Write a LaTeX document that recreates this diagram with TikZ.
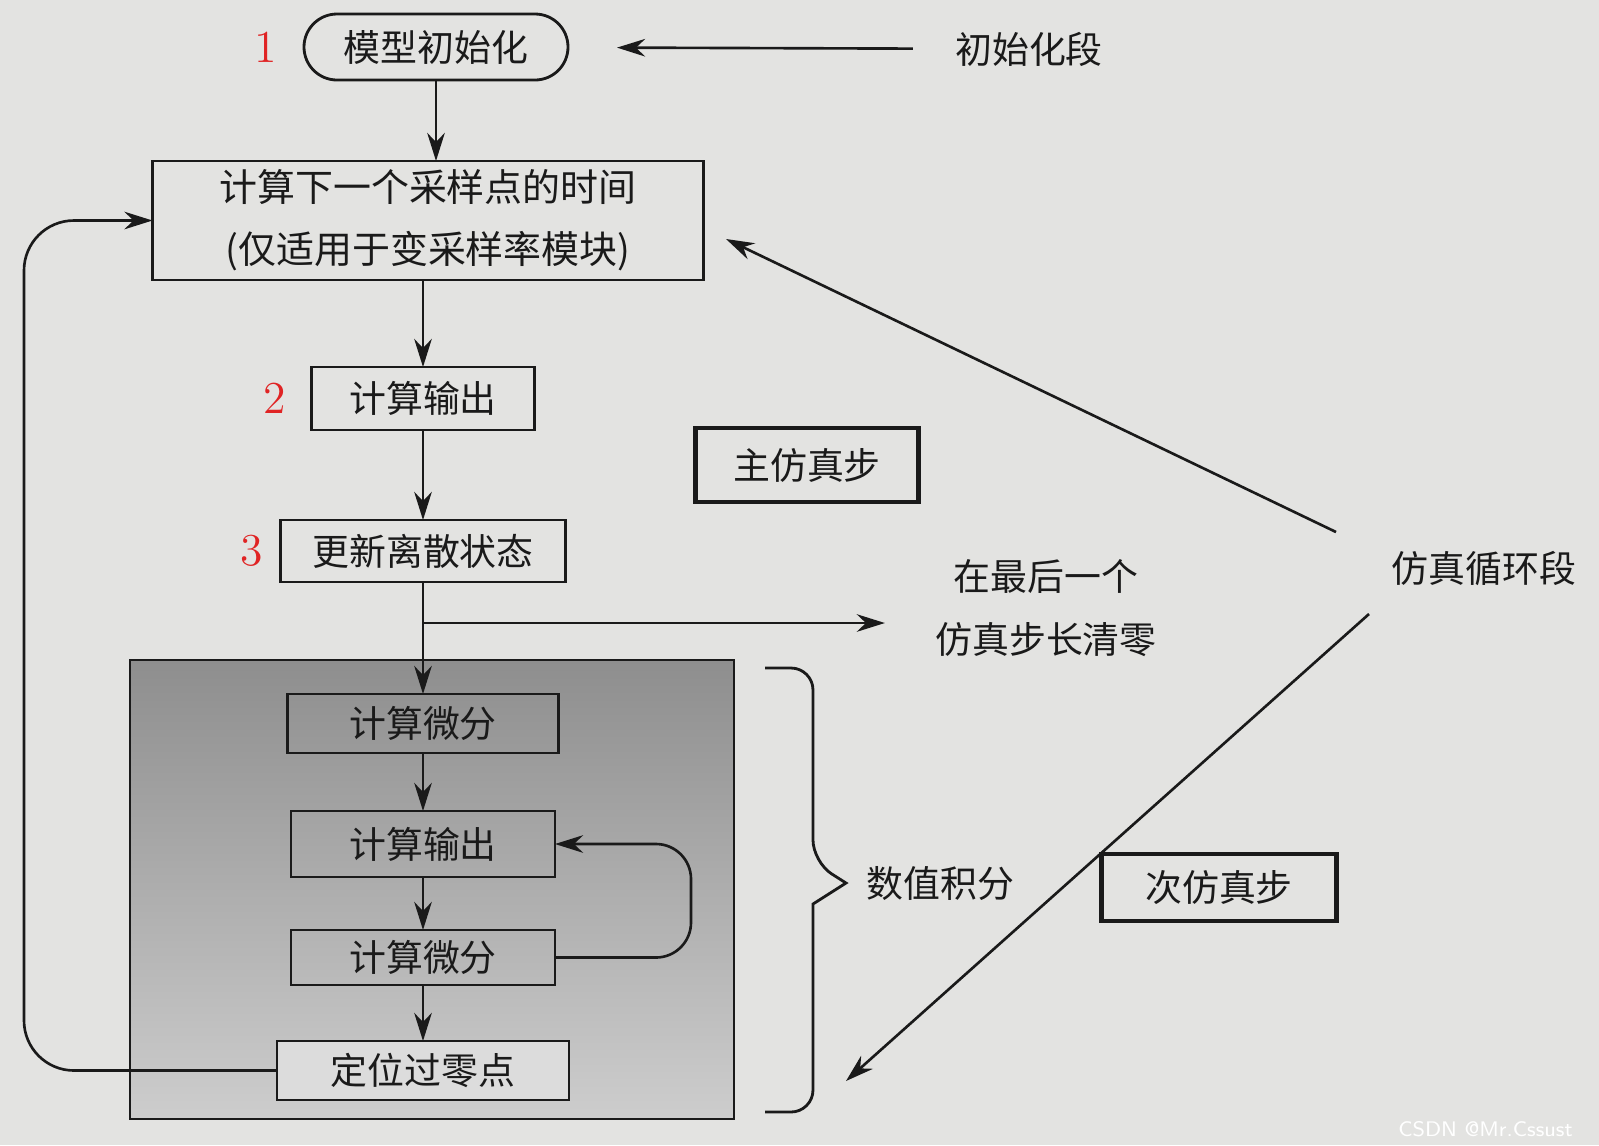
\documentclass[tikz,border=0pt]{standalone}
\usepackage{fontspec}
\newfontfamily\cjk{Noto Sans CJK SC}
\usepackage{tikz}
\usetikzlibrary{positioning,arrows.meta,calc}
\definecolor{paper}{HTML}{E3E3E1}
\definecolor{ink}{HTML}{1A1A1A}
\definecolor{numred}{HTML}{E02424}
\definecolor{shadetop}{HTML}{8E8E8E}
\definecolor{shadebot}{HTML}{CDCDCD}

\begin{document}
\begin{tikzpicture}[
    every node/.style={font=\cjk\fontsize{10.5pt}{12pt}\selectfont, text=ink},
    box/.style={draw=ink, line width=0.8pt, inner sep=0pt, outer sep=0pt, align=center},
    stepbox/.style={draw=ink, line width=1.4pt, inner sep=0pt, outer sep=0pt, align=center},
    arr/.style={-{Stealth[length=8pt,width=5pt]}, line width=0.75pt, draw=ink},
    num/.style={font=\fontsize{13pt}{13pt}\selectfont, text=numred},
    lbl/.style={align=center}
]
    \useasboundingbox (0,0) rectangle (15.99,-11.45);
    \fill[paper] (0,0) rectangle (15.99,-11.45);

    % shaded integration area
    \node[draw=ink, line width=0.8pt, top color=shadetop, bottom color=shadebot,
          minimum width=6.04cm, minimum height=4.59cm, inner sep=0pt] (intg) at (4.32,-8.895) {};

    \node[box, rounded corners=0.33cm, minimum width=2.64cm, minimum height=0.66cm] (init) at (4.36,-0.47) {模型初始化};
    \node[box, minimum width=5.51cm, minimum height=1.19cm, font=\cjk\fontsize{10.8pt}{17.7pt}\selectfont,
          below=0.81cm of init, xshift=-0.08cm] (next) {计算下一个采样点的时间\\(仅适用于变采样率模块)};
    \node[box, minimum width=2.23cm, minimum height=0.63cm, below=0.87cm of next, xshift=-0.05cm] (out) {计算输出};
    \node[box, minimum width=2.85cm, minimum height=0.62cm, below=0.90cm of out] (upd) {更新离散状态};
    \node[box, minimum width=2.71cm, minimum height=0.59cm, below=1.12cm of upd] (derivA) {计算微分};
    \node[box, minimum width=2.64cm, minimum height=0.66cm, below=0.58cm of derivA] (outB) {计算输出};
    \node[box, minimum width=2.64cm, minimum height=0.55cm, below=0.53cm of outB] (derivB) {计算微分};
    \node[box, fill=shadebot!70!white, minimum width=2.92cm, minimum height=0.59cm, below=0.56cm of derivB] (zero) {定位过零点};

    \node[num, left=0.15cm of init] (n1) {1};
    \node[num, left=0.13cm of out] (n2) {2};
    \node[num, left=0.05cm of upd] (n3) {3};

    \node[stepbox, minimum width=2.23cm, minimum height=0.74cm] (mainstep) at (8.07,-4.65) {主仿真步};
    \node[stepbox, minimum width=2.35cm, minimum height=0.67cm] (substep) at (12.19,-8.875) {次仿真步};

    \node (initlbl) at (10.29,-0.49) {初始化段};
    \node[lbl, font=\cjk\fontsize{10.5pt}{18pt}\selectfont] (lastlbl) at (10.46,-6.08) {在最后一个\\仿真步长清零};
    \node (looplbl) at (14.84,-5.68) {仿真循环段};
    \node[right=0.08cm of {(8.46,-8.83)}] (intlbl) {数值积分};

    \coordinate (branch) at ($(upd.south)+(0,-0.41)$);
    \coordinate (loopA) at (13.36,-5.32);
    \coordinate (loopAend) at (7.26,-2.39);
    \coordinate (loopB) at (13.69,-6.14);
    \coordinate (loopBend) at (8.46,-10.81);

    \draw[arr] (init) -- (init |- next.north);
    \draw[arr] (next.south -| out) -- (out);
    \draw[arr] (out) -- (upd);
    \draw[arr] (upd) -- (derivA);
    \draw[arr] (derivA) -- (outB);
    \draw[arr] (outB) -- (derivB);
    \draw[arr] (derivB) -- (zero);
    \draw[arr, shorten >=0.38cm] (branch) -- (branch -| lastlbl.west);
    \draw[arr, rounded corners=0.35cm] (derivB.east) -- ++(1.36,0) |- (outB.east);
    \draw[arr, rounded corners=0.5cm] (zero.west) -- ++(-2.53,0) |- (next.west);
    \draw[arr, shorten <=0.3cm, shorten >=0.49cm] (initlbl) -- (init);
    \draw[arr] (loopA) -- (loopAend);
    \draw[arr] (loopB) -- (loopBend);

    % brace of the integration part
    \draw[line width=0.8pt, draw=ink, rounded corners=0.22cm]
        (7.65,-6.68) -- (8.13,-6.68) -- (8.13,-8.62) [sharp corners] -- (8.46,-8.83) -- (8.13,-9.04)
        [rounded corners=0.22cm] -- (8.13,-11.12) -- (7.65,-11.12);

    \node[font=\sffamily\fontsize{6pt}{6pt}\selectfont, text=white, anchor=east] (mark) at (15.85,-11.29) {CSDN @Mr.Cssust};
\end{tikzpicture}
\end{document}
